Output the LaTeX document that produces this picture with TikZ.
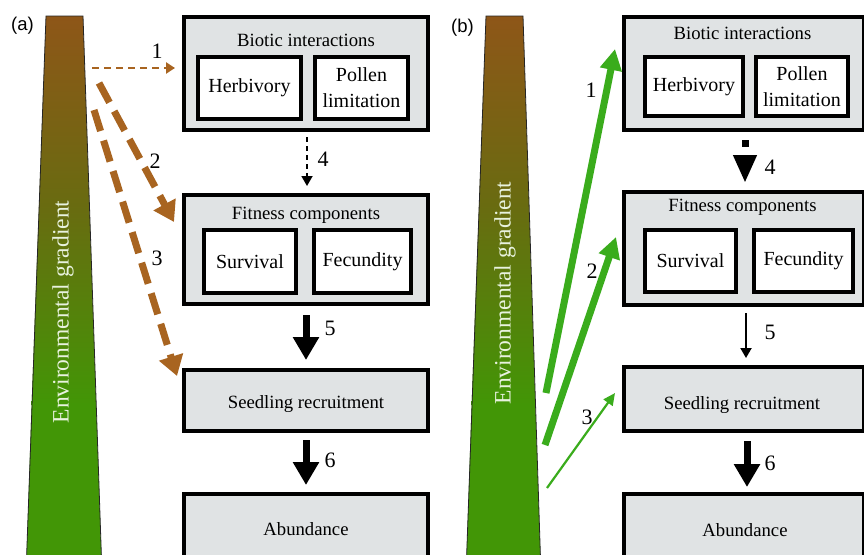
\documentclass[tikz,border=0pt]{standalone}
\usepackage{fontspec}
\setmainfont{Liberation Serif}
\newfontfamily\labelsans{Liberation Sans}
\usetikzlibrary{arrows.meta}
\definecolor{boxgray}{RGB}{224,227,228}
\definecolor{envbrown}{RGB}{142,86,24}
\definecolor{envolive}{RGB}{104,108,16}
\definecolor{envgreen}{RGB}{66,150,6}
\definecolor{arrbrown}{RGB}{168,100,32}
\definecolor{arrgreen}{RGB}{58,172,28}
\definecolor{gradtext}{RGB}{232,242,222}
\tikzset{
  outerbox/.style={draw=black,line width=4pt,fill=boxgray,inner sep=0pt},
  innerbox/.style={draw=black,line width=4pt,fill=white,inner sep=0pt,align=center,
    font=\fontsize{20}{26}\selectfont},
  titletext/.style={inner sep=0pt,font=\fontsize{18.7}{22}\selectfont},
  boxtext/.style={inner sep=0pt,font=\fontsize{18.7}{22}\selectfont},
  numlabel/.style={inner sep=0pt,font=\fontsize{22}{26}\selectfont},
  panellabel/.style={inner sep=0pt,font=\labelsans\fontsize{18.5}{22}\selectfont},
  gradlabel/.style={inner sep=0pt,rotate=90,text=gradtext,font=\fontsize{23.5}{28}\selectfont},
  envshade/.style={top color=envbrown,bottom color=envgreen,middle color=envolive},
  envoutline/.style={draw=black!85,line width=0.8pt},
  brownthin/.style={draw=arrbrown,line width=2.5pt,dash pattern=on 7pt off 5pt,
    -{Triangle[length=9pt,width=11pt]}},
  brownthick/.style={draw=arrbrown,line width=7pt,dash pattern=on 22pt off 10pt,
    -{Triangle[length=20pt,width=24pt]}},
  greenthick/.style={draw=arrgreen,line width=7pt,-{Triangle[length=21pt,width=21pt]}},
  greenthin/.style={draw=arrgreen,line width=2.2pt,-{Triangle[length=12pt,width=11pt]}},
  blackthick/.style={draw=black,line width=7pt,-{Triangle[length=23pt,width=25pt]}},
  blackthin/.style={draw=black,line width=2pt,-{Triangle[length=10pt,width=11pt]}},
  blackdash/.style={draw=black,line width=1.8pt,dash pattern=on 5pt off 4pt,-{Triangle[length=10pt,width=11pt]}},
}
\begin{document}
\begin{tikzpicture}[x=1pt,y=-1pt]
\useasboundingbox (0,0) rectangle (864,554);
\clip (0,0) rectangle (864,554);
\fill[white] (0,0) rectangle (864,554);

% ================= Panel (a) =================
\node[panellabel] (pa) at (22.5,26) {(a)};
\shade[envshade] (46,16) -- (83,16) -- (96.2,405) -- (31.6,405) -- cycle;
\fill[envgreen] (31.6,404.5) -- (96.2,404.5) -- (101.6,562) -- (26.4,562) -- cycle;
\draw[envoutline] (46,16) -- (83,16) -- (101.6,562) -- (26.4,562) -- cycle;
\node[gradlabel] (envA) at (63,312) {Environmental gradient};

\node[outerbox,minimum width=244pt,minimum height=113pt] (bioA) at (306,73.5) {};
\node[titletext] (bioAt) at (306,40) {Biotic interactions};
\node[innerbox,minimum width=103pt,minimum height=62pt] (herbA) at (249.5,88) {Herbivory};
\node[innerbox,minimum width=93pt,minimum height=62pt] (pollA) at (361.5,88) {Pollen\\limitation};

\node[outerbox,minimum width=244pt,minimum height=109pt] (fitA) at (306,249.5) {};
\node[titletext] (fitAt) at (306,215) {Fitness components};
\node[innerbox,minimum width=92pt,minimum height=63pt] (survA) at (250,261.5) {Survival};
\node[innerbox,minimum width=97pt,minimum height=63pt] (fecA) at (362.5,261.5) {Fecundity};

\node[outerbox,minimum width=244pt,minimum height=61pt] (seedA) at (306,400.5) {};
\node[boxtext] (seedAt) at (306,404) {Seedling recruitment};

\node[outerbox,minimum width=244pt,minimum height=90pt] (abunA) at (306,539) {};
\node[boxtext] (abunAt) at (306,529) {Abundance};

\draw[blackdash,shorten <=5pt,shorten >=7pt] (bioA.south -| 307,0) -- (fitA.north -| 307,0);
\node[numlabel] (n4a) at (323,159) {4};
\draw[blackthick,shorten <=9pt,shorten >=8pt] (fitA.south) -- (seedA.north);
\node[numlabel] (n5a) at (330,328) {5};
\draw[blackthick,shorten <=7pt,shorten >=7pt] (seedA.south) -- (abunA.north);
\node[numlabel] (n6a) at (330,460) {6};

\coordinate (a1s) at (92,68);
\coordinate (a1e) at (175,68);
\coordinate (a2s) at (99,83);
\coordinate (a2e) at (174,222);
\coordinate (a3s) at (94,110);
\coordinate (a3e) at (177,376);
\draw[brownthin] (a1s) -- (a1e);
\draw[brownthick] (a2s) -- (a2e);
\draw[brownthick] (a3s) -- (a3e);
\node[numlabel] (n1a) at (157,51) {1};
\node[numlabel] (n2a) at (155,161) {2};
\node[numlabel] (n3a) at (157,258) {3};

% ================= Panel (b) =================
\node[panellabel] (pb) at (462.5,28) {(b)};
\shade[envshade] (486,16) -- (523,16) -- (535.4,405) -- (471.6,405) -- cycle;
\fill[envgreen] (471.6,404.5) -- (535.4,404.5) -- (540.6,562) -- (466.4,562) -- cycle;
\draw[envoutline] (486,16) -- (523,16) -- (540.6,562) -- (466.4,562) -- cycle;
\node[gradlabel] (envB) at (505,293) {Environmental gradient};

\node[outerbox,minimum width=240pt,minimum height=113pt] (bioB) at (744,73.5) {};
\node[titletext] (bioBt) at (742.5,33) {Biotic interactions};
\node[innerbox,minimum width=98pt,minimum height=59pt] (herbB) at (694,86.5) {Herbivory};
\node[innerbox,minimum width=92pt,minimum height=59pt] (pollB) at (802,86.5) {Pollen\\limitation};

\node[outerbox,minimum width=240pt,minimum height=113pt] (fitB) at (744,248.5) {};
\node[titletext] (fitBt) at (742.5,207) {Fitness components};
\node[innerbox,minimum width=91pt,minimum height=62pt] (survB) at (690.5,261) {Survival};
\node[innerbox,minimum width=99pt,minimum height=62pt] (fecB) at (803.5,261) {Fecundity};

\node[outerbox,minimum width=240pt,minimum height=64pt] (seedB) at (744,399) {};
\node[boxtext] (seedBt) at (742,405) {Seedling recruitment};

\node[outerbox,minimum width=240pt,minimum height=90pt] (abunB) at (744,539) {};
\node[boxtext] (abunBt) at (745,530) {Abundance};

\draw[draw=black,line width=7pt,dash pattern=on 7pt off 40pt,shorten <=8pt,shorten >=7pt,
  -{Triangle[length=28pt,width=22pt]}] (bioB.south -| 745,0) -- (fitB.north -| 745,0);
\node[numlabel] (n4b) at (770,167) {4};
\draw[blackthin,shorten <=6pt,shorten >=7pt] (fitB.south -| 746,0) -- (seedB.north -| 746,0);
\node[numlabel] (n5b) at (770,332) {5};
\draw[blackthick,shorten <=8pt,shorten >=5pt] (seedB.south -| 747,0) -- (abunB.north -| 747,0);
\node[numlabel] (n6b) at (770,463) {6};

\coordinate (g1s) at (546,393);
\coordinate (g1e) at (615,49);
\coordinate (g2s) at (545,445);
\coordinate (g2e) at (616,237);
\coordinate (g3s) at (547,488);
\coordinate (g3e) at (615,393);
\draw[greenthick] (g1s) -- (g1e);
\draw[greenthick] (g2s) -- (g2e);
\draw[greenthin] (g3s) -- (g3e);
\node[numlabel] (n1b) at (591,90) {1};
\node[numlabel] (n2b) at (592,271) {2};
\node[numlabel] (n3b) at (587,417) {3};
\end{tikzpicture}
\end{document}
